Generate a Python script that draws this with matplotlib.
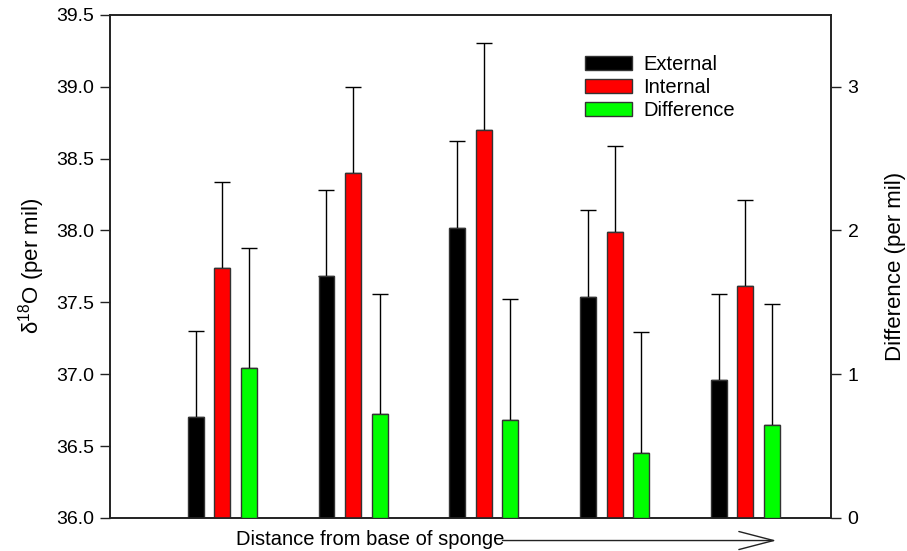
"""Oxygen isotope values along a sponge: external vs internal, plus difference."""

import matplotlib as mpl

mpl.use("Agg")
import matplotlib.pyplot as plt
import numpy as np

plt.rcParams["font.family"] = ["Liberation Sans", "DejaVu Sans"]

# --- data ---
positions = [1, 2, 3, 4, 5]
external = [36.70, 37.68, 38.02, 37.54, 36.96]
external_err = [0.60, 0.60, 0.60, 0.60, 0.60]
internal = [37.74, 38.40, 38.70, 37.99, 37.61]
internal_err = [0.60, 0.60, 0.60, 0.60, 0.60]
difference = [1.04, 0.72, 0.68, 0.45, 0.65]
difference_err = [0.84, 0.84, 0.84, 0.84, 0.84]
left_ticks = [36.0, 36.5, 37.0, 37.5, 38.0, 38.5, 39.0, 39.5]
right_ticks = [0, 1, 2, 3]

x = np.array(positions, dtype=float)
off = 0.203
w = 0.122
edge = "#333333"

fig = plt.figure(figsize=(9.07, 5.51), dpi=100)
ax = fig.add_axes([0.1218, 0.0599, 0.7944, 0.9134])
ax2 = ax.twinx()

ax.bar(x - off, external, width=w, bottom=0, color="black", edgecolor=edge,
       lw=1, zorder=3, label="External")
ax.bar(x, internal, width=w, bottom=0, color="#ff0000", edgecolor=edge,
       lw=1, zorder=3, label="Internal")
ax2.bar(x + off, difference, width=w, color="#00ff00", edgecolor=edge,
        lw=1, zorder=3, label="Difference")

zeros = np.zeros(len(x))
ax.errorbar(x - off, external, yerr=[zeros, external_err], fmt="none",
            ecolor="black", elinewidth=1, capsize=5.8, capthick=1, zorder=2)
ax.errorbar(x, internal, yerr=[zeros, internal_err], fmt="none",
            ecolor="black", elinewidth=1, capsize=5.8, capthick=1, zorder=2)
ax2.errorbar(x + off, difference, yerr=[zeros, difference_err], fmt="none",
             ecolor="black", elinewidth=1, capsize=5.8, capthick=1, zorder=2)

ax.set_xlim(0.145, 5.655)
ax.set_ylim(36.0, 39.5)
ax2.set_ylim(0, 3.5)
ax.set_yticks(left_ticks)
ax.set_yticklabels([f"{v:.1f}" for v in left_ticks])
ax2.set_yticks(right_ticks)
ax.set_xticks([])

for a in (ax, ax2):
    for s in a.spines.values():
        s.set_linewidth(1.2)
        s.set_color("#222222")
    a.tick_params(axis="y", direction="out", length=7, width=1,
                  labelsize=14, pad=5, color="#222222")

ax.set_ylabel(r"$\mathregular{\delta^{18}}$O (per mil)", fontsize=16,
              labelpad=6)
ax2.set_ylabel("Difference (per mil)", fontsize=16, labelpad=19)

handles = [ax.patches[0], ax.patches[5], ax2.patches[0]]
fig.legend(handles, ["External", "Internal", "Difference"],
           loc="upper left", bbox_to_anchor=(0.625, 0.933), frameon=False,
           fontsize=14.5, handlelength=2.35, handleheight=0.75,
           handletextpad=0.55, labelspacing=0.2)

fig.text(0.260, 0.021, "Distance from base of sponge", fontsize=14.5,
         ha="left", va="center")
fig.add_artist(mpl.patches.FancyArrowPatch(
    (0.551, 0.019), (0.859, 0.019), transform=fig.transFigure,
    arrowstyle="->,head_length=2.5,head_width=0.65", mutation_scale=10,
    lw=1, color="#222222"))

fig.savefig("out.png", dpi=100)
